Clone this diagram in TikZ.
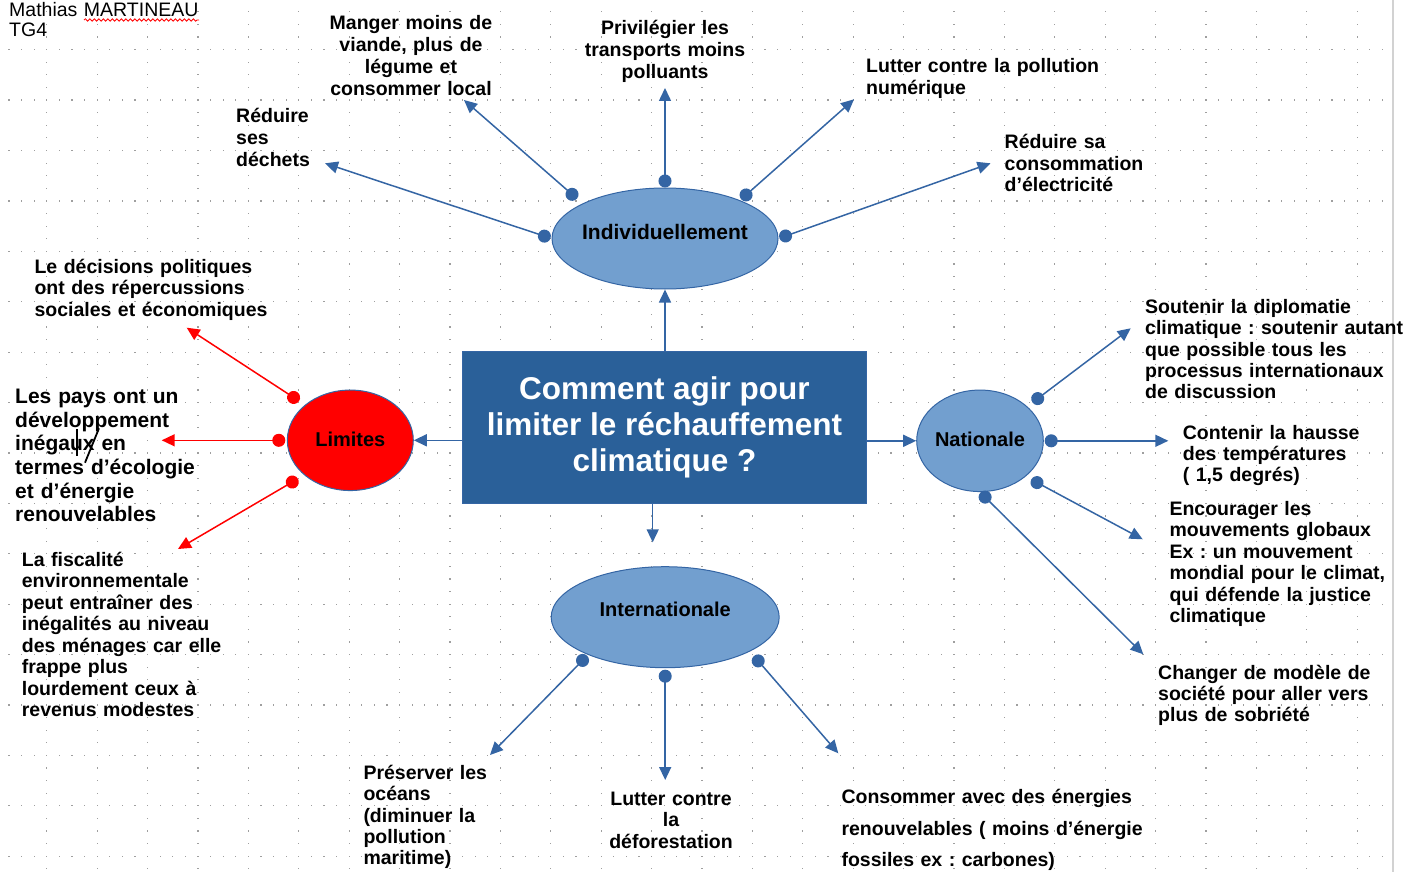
\documentclass[tikz,border=0pt]{standalone}
\usepackage{fontspec}
\setmainfont{Liberation Sans}
\usepackage{tikz}
\usetikzlibrary{positioning}
\usetikzlibrary{shapes,arrows.meta,decorations.pathmorphing}
\frenchspacing
\definecolor{lineblue}{RGB}{52,101,164}
\definecolor{softblue}{RGB}{114,159,207}
\definecolor{deepblue}{RGB}{42,96,153}
\tikzset{
griddot/.style = {fill=gray!75},
bubble/.style = {ellipse, draw=lineblue, fill=softblue, line width=1pt, inner xsep=-8pt, inner ysep=0pt,
    font=\bfseries\fontsize{20}{24}\selectfont},
quest/.style = {rectangle, draw=lineblue, fill=deepblue, line width=1pt, text=white, align=center,
    minimum width=404pt, minimum height=151.6pt, font=\bfseries\fontsize{31.5}{36}\selectfont},
txt/.style = {inner sep=0pt, text width=420pt, align=left, anchor=base west,
    font=\bfseries\fontsize{19.5}{#1}\selectfont},
txt/.default = 21.5,
ctxt/.style = {txt=#1, text width=240pt, align=center, anchor=base},
ctxt/.default = 21.7,
head/.style = {inner sep=0pt, text width=300pt, align=left, anchor=base west,
    font=\fontsize{19.5}{20}\selectfont},
arr/.style = {draw=lineblue, line width=1.5pt, ->},
link/.style = {draw=lineblue, line width=1.5pt, {Circle[length=13pt]}-{Triangle[length=13pt,width=12pt]}},
redlink/.style = {link, draw=red},
tmp/.style = {coordinate}
}

\begin{document}
\begin{tikzpicture}[x=1pt, y=-1pt, >={Triangle[length=13pt,width=12pt]}]
    \useasboundingbox (0,0) rectangle (1416,872);
    \fill [white] (0,0) rectangle (1416,872);
    % dotted grid of the page
    \foreach \r in {0,...,16}
      \foreach \c in {-3,...,106}
        \fill [griddot] ({46.1+12.6*\c},{49.1+50.4*\r}) rectangle ++(1.2,1.2);
    \foreach \c in {0,...,26}
      \foreach \r in {-3,...,65}
        \fill [griddot] ({46.1+50.4*\c},{49.1+12.6*\r}) rectangle ++(1.2,1.2);
    \draw [gray!35, line width=2pt] (1393,0) -- (1393,872);

    % header
    \node [head] (auth) at (9,16.7) {Mathias MARTINEAU\\TG4};
    \draw [red, line width=0.8pt, decorate, decoration={snake, amplitude=1.2pt, segment length=4.5pt}]
        (84,20) -- (199,20);

    % the question and the four bubbles
    \node [quest] (q) at (664.5,427.5) {Comment agir pour\\limiter le réchauffement\\climatique ?};
    \node [bubble, minimum width=226pt, minimum height=101pt, text height=10pt, text depth=8.4pt,
        font=\bfseries\fontsize{21}{24}\selectfont] (ind) at (665,238.5) {Individuellement};
    \node [bubble, fill=red, minimum width=126pt, minimum height=100.5pt, text height=13pt,
        text depth=0.2pt] (lim) at (350.3,440.3) {Limites};
    \node [bubble, minimum width=126.6pt, minimum height=101.5pt, text height=12pt,
        text depth=0.2pt] (nat) at (980,440.8) {Nationale};
    \node [bubble, minimum width=228pt, minimum height=101pt, text height=8pt,
        text depth=10.4pt] (intl) at (665.2,617.2) {Internationale};

    % texts
    \node [txt=22] (dech) at (236,122.7) {Réduire\\ses\\déchets};
    \node [ctxt] (mang) at (411,30) {Manger moins de\\viande, plus de\\légume et\\consommer local};
    \node [ctxt=22] (priv) at (665,35) {Privilégier les\\transports moins\\polluants};
    \node [txt=21.7] (num) at (866,72.7) {Lutter contre la pollution\\numérique};
    \node [txt=21.7] (elec) at (1004.5,148.3) {Réduire sa\\consommation\\d’électricité};
    \node [txt=21.4] (pol) at (34.3,273.3) {Le décisions politiques\\ont des répercussions\\sociales et économiques};
    \node [txt, font=\bfseries\fontsize{21}{23.7}\selectfont] (pays) at (15,403.3)
        {Les pays ont un\\développement\\inégaux en\\termes d’écologie\\et d’énergie\\renouvelables};
    \node [txt] (fisc) at (21.7,566) {La fiscalité\\environnementale\\peut entraîner des\\inégalités au niveau\\des ménages car elle\\frappe plus\\lourdement ceux à\\revenus modestes};
    \node [txt=21.4] (dipl) at (1145,313.3) {Soutenir la diplomatie\\climatique : soutenir autant\\que possible tous les\\processus internationaux\\de discussion};
    \node [txt=21.2] (temp) at (1182.7,439.3) {Contenir la hausse\\des températures\\( 1,5 degrés)};
    \node [txt] (glob) at (1169.3,515) {Encourager les\\mouvements globaux\\Ex : un mouvement\\mondial pour le climat,\\qui défende la justice\\climatique};
    \node [txt=21] (sobr) at (1158,679) {Changer de modèle de\\société pour aller vers\\plus de sobriété};
    \node [txt=21.4] (ocea) at (363.3,779.3) {Préserver les\\océans\\(diminuer la\\pollution\\maritime)};
    \node [ctxt] (defo) at (671,805) {Lutter contre\\la\\déforestation};
    \node [txt=31.7] (ener) at (841.3,803.3) {Consommer avec des énergies\\renouvelables ( moins d’énergie\\fossiles ex : carbones)};

    % hand marks on "inégaux"
    \draw [line width=2.2pt] (77.3,429.3) -- (77.3,456);
    \draw [line width=1.8pt] (99,428.3) -- (85,462.7);

    % arrow ends
    \coordinate (a-dech) at (325,163.3);
    \coordinate (a-mang) at (464,100);
    \coordinate (a-priv) at (665,88);
    \coordinate (a-num) at (854,99.3);
    \coordinate (a-elec) at (990.5,163.3);
    \coordinate (a-pol) at (186.7,327.7);
    \coordinate (a-pays) at (161.7,440.3);
    \coordinate (a-fisc) at (178,549);
    \coordinate (a-dipl) at (1130.7,328.3);
    \coordinate (a-temp) at (1168.3,440.8);
    \coordinate (a-glob) at (1142.7,539.3);
    \coordinate (a-sobr) at (1143.3,654.3);
    \coordinate (a-ocea) at (490,755);
    \coordinate (a-defo) at (665.2,780);
    \coordinate (a-ener) at (838.3,753.3);
    \coordinate (a-down) at (652.7,542.3);

    % from the question
    \draw [arr] (q.north -| ind.south) -- (ind.south);
    \draw [arr] (q.west |- lim.east) -- (lim.east);
    \draw [arr] (q.east |- nat.west) -- (nat.west);
    \draw [arr] (q.south -| a-down) -- (a-down);

    % branches
    \draw [link, shorten <=1pt] (ind.180) -- (a-dech);
    \draw [link, shorten <=7.4pt] (ind.157.5) -- (a-mang);
    \draw [link] (ind.90) -- (a-priv);
    \draw [link, shorten <=1.5pt] (ind.27.3) -- (a-num);
    \draw [link, shorten <=1pt] (ind.0) -- (a-elec);

    \draw [redlink, shorten <=7pt] (lim.142.9) -- (a-pol);
    \draw [redlink, shorten <=1.5pt] (lim.180) -- (a-pays);
    \draw [redlink, shorten <=7.2pt] (lim.217.9) -- (a-fisc);

    \draw [link, shorten <=6.5pt] (nat.36.9) -- (a-dipl);
    \draw [link, shorten <=0.9pt] (nat.0) -- (a-temp);
    \draw [link, shorten <=6.3pt] (nat.322.1) -- (a-glob);
    \draw [link, shorten <=0.7pt] (nat.270.7) -- (a-sobr);

    \draw [link, shorten <=1.3pt] (intl.206.7) -- (a-ocea);
    \draw [link, shorten <=1.5pt] (intl.270) -- (a-defo);
    \draw [link, shorten <=6pt] (intl.338) -- (a-ener);
\end{tikzpicture}
\end{document}
